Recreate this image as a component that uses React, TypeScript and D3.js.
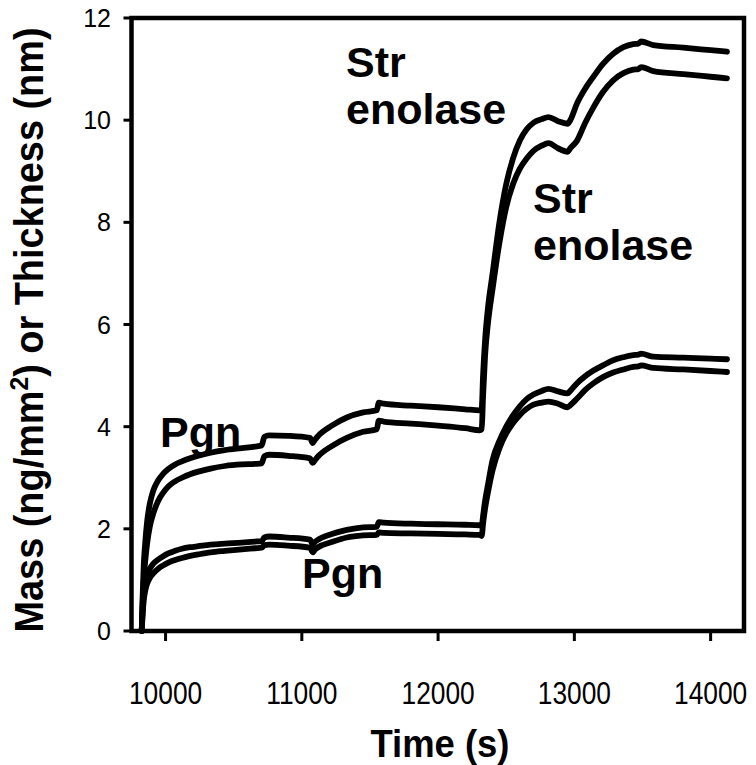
import React from "react";
import * as d3 from "d3";

const times = [9825, 9832, 9840, 9850, 9865, 9885, 9910, 9946, 9980, 10020, 10070, 10120, 10180, 10240, 10330, 10435, 10560, 10656, 10705, 10725, 10760, 10900, 11060, 11080, 11095, 11120, 11220, 11330, 11450, 11550, 11565, 11600, 11800, 12000, 12200, 12305, 12320, 12330, 12345, 12365, 12400, 12450, 12500, 12550, 12600, 12650, 12700, 12760, 12810, 12880, 12950, 12970, 13020, 13080, 13140, 13210, 13285, 13360, 13432, 13470, 13490, 13580, 13800, 14000, 14120];

const strUpper = [0, 0.7, 1.3, 1.7, 2.15, 2.5, 2.75, 2.95, 3.07, 3.17, 3.26, 3.32, 3.38, 3.43, 3.49, 3.54, 3.58, 3.61, 3.63, 3.8, 3.83, 3.82, 3.78, 3.68, 3.74, 3.82, 4.02, 4.18, 4.28, 4.32, 4.47, 4.45, 4.41, 4.38, 4.34, 4.32, 4.35, 5.0, 5.7, 6.3, 7.0, 8.0, 8.75, 9.25, 9.6, 9.82, 9.95, 10.02, 10.06, 9.98, 9.93, 10.0, 10.33, 10.62, 10.85, 11.1, 11.3, 11.43, 11.49, 11.5, 11.54, 11.47, 11.42, 11.37, 11.34];

const strLower = [0, 0.55, 1.0, 1.35, 1.72, 2.05, 2.3, 2.55, 2.7, 2.83, 2.93, 3.0, 3.07, 3.12, 3.18, 3.23, 3.26, 3.27, 3.28, 3.42, 3.45, 3.43, 3.38, 3.29, 3.34, 3.42, 3.62, 3.78, 3.9, 3.95, 4.12, 4.1, 4.06, 4.02, 3.97, 3.93, 3.95, 4.6, 5.4, 6.0, 6.7, 7.6, 8.3, 8.75, 9.05, 9.25, 9.4, 9.5, 9.55, 9.45, 9.38, 9.45, 9.6, 9.95, 10.25, 10.55, 10.78, 10.92, 10.99, 11.0, 11.04, 10.96, 10.9, 10.85, 10.82];

const pgnUpper = [0, 0.45, 0.75, 0.95, 1.1, 1.22, 1.32, 1.4, 1.46, 1.52, 1.57, 1.61, 1.64, 1.66, 1.69, 1.71, 1.73, 1.75, 1.76, 1.83, 1.85, 1.83, 1.79, 1.69, 1.74, 1.79, 1.9, 1.98, 2.03, 2.04, 2.13, 2.12, 2.1, 2.09, 2.08, 2.07, 2.05, 2.25, 2.55, 2.85, 3.35, 3.72, 4.0, 4.22, 4.4, 4.54, 4.63, 4.7, 4.74, 4.69, 4.65, 4.7, 4.85, 4.99, 5.1, 5.2, 5.3, 5.36, 5.4, 5.41, 5.43, 5.37, 5.35, 5.33, 5.32];

const pgnLower = [0, 0.35, 0.6, 0.78, 0.93, 1.04, 1.13, 1.22, 1.28, 1.34, 1.39, 1.43, 1.47, 1.5, 1.54, 1.57, 1.6, 1.62, 1.63, 1.68, 1.69, 1.67, 1.63, 1.54, 1.59, 1.64, 1.74, 1.83, 1.87, 1.88, 1.93, 1.92, 1.91, 1.9, 1.89, 1.88, 1.86, 2.1, 2.4, 2.7, 3.15, 3.58, 3.87, 4.07, 4.23, 4.35, 4.43, 4.47, 4.49, 4.45, 4.38, 4.42, 4.55, 4.72, 4.85, 4.97, 5.06, 5.12, 5.17, 5.18, 5.2, 5.15, 5.12, 5.09, 5.07];

const series = [strUpper, strLower, pgnUpper, pgnLower];

const xTicks = [10000, 11000, 12000, 13000, 14000];
const yTicks = [0, 2, 4, 6, 8, 10, 12];

const xLabel = "Time (s)";

export default function App() {
  const W = 756;
  const H = 765;
  const left = 131.5;
  const right = 744;
  const top = 18;
  const bottom = 631;

  const x = d3.scaleLinear().domain([9750, 14245]).range([left, right]);
  const y = d3.scaleLinear().domain([0, 12]).range([bottom, top]);

  const line = d3
    .line<number>()
    .x((_, i) => x(times[i]))
    .y((d) => y(d))
    .curve(d3.curveMonotoneX);

  const font = "Liberation Sans, Arial, Helvetica, sans-serif";

  return (
    <svg
      width={W}
      height={H}
      style={{ position: "absolute", left: 0, top: 0, background: "#fff" }}
      fontFamily={font}
    >
      <rect x={0} y={0} width={W} height={H} fill="#fff" />
      {series.map((s, i) => (
        <path
          key={i}
          d={line(s) || ""}
          fill="none"
          stroke="#000"
          strokeWidth={5.8}
          strokeLinejoin="round"
          strokeLinecap="round"
        />
      ))}
      <rect
        x={left}
        y={top}
        width={right - left}
        height={bottom - top}
        fill="none"
        stroke="#000"
        strokeWidth={4.5}
      />
      {yTicks.map((t) => (
        <g key={"y" + t}>
          <line x1={left - 8} x2={left} y1={y(t)} y2={y(t)} stroke="#000" strokeWidth={3} />
          <text x={111} y={y(t)} dy="0.36em" textAnchor="end" fontSize={25}>
            {t}
          </text>
        </g>
      ))}
      {xTicks.map((t) => (
        <g key={"x" + t} >
          <line x1={x(t)} x2={x(t)} y1={bottom} y2={bottom + 10} stroke="#000" strokeWidth={3} />
          <text
            transform={`translate(${x(t)},704) scale(0.85,1)`}
            textAnchor="middle"
            fontSize={31}
          >
            {t}
          </text>
        </g>
      ))}
      <text
        x={440}
        y={757}
        textAnchor="middle"
        fontSize={38}
        fontWeight="bold"
        textLength={139}
        lengthAdjust="spacingAndGlyphs"
      >
        {xLabel}
      </text>
      <text
        transform="translate(43,330) rotate(-90)"
        textAnchor="middle"
        fontSize={40}
        fontWeight="bold"
        textLength={605}
        lengthAdjust="spacingAndGlyphs"
      >
        Mass (ng/mm<tspan dy={-15} fontSize={26}>2</tspan>
        <tspan dy={15}>) or Thickness (nm)</tspan>
      </text>
      <g fontWeight="bold" fontSize={43}>
        <text x={160} y={447}>Pgn</text>
        <text x={302} y={588}>Pgn</text>
        <text x={346} y={77}>Str</text>
        <text x={346} y={124}>enolase</text>
        <text x={533} y={213}>Str</text>
        <text x={533} y={260}>enolase</text>
      </g>
    </svg>
  );
}
